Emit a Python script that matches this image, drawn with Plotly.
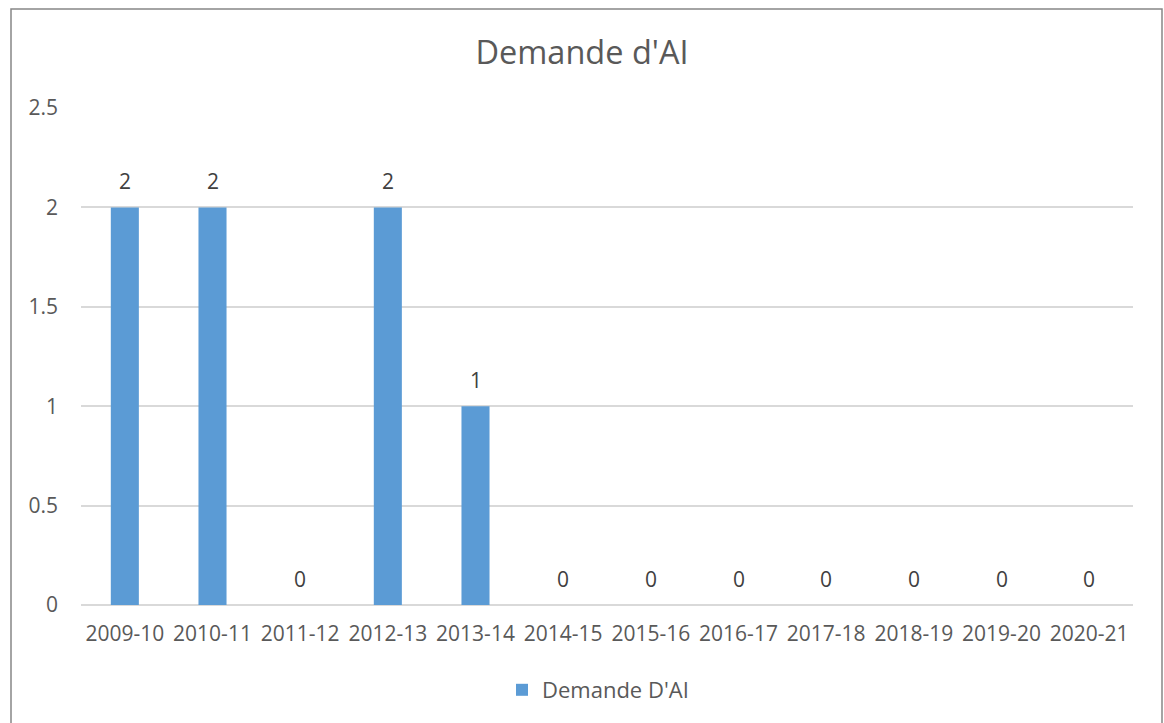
import plotly.graph_objects as go

categories = ["2009-10", "2010-11", "2011-12", "2012-13", "2013-14", "2014-15",
              "2015-16", "2016-17", "2017-18", "2018-19", "2019-20", "2020-21"]
values = [2, 2, 0, 2, 1, 0, 0, 0, 0, 0, 0, 0]
series_name = "Demande D'AI"
title_text = "Demande d'AI"

FONT = "'Open Sans', sans-serif"
GREY = "#595959"

fig = go.Figure()
fig.add_trace(go.Bar(
    x=categories, y=values, name=series_name,
    marker=dict(color="#5b9bd5", line=dict(width=0)),
))

for c, v in zip(categories, values):
    fig.add_annotation(x=c, y=v, text=str(v), showarrow=False,
                       yanchor="bottom", yshift=10,
                       font=dict(size=21, color="#404040", family=FONT))

W, H = 1164, 723
L, R, T, B = 81, 31, 108, 118
pw = W - L - R
ph = H - T - B

def px_x(x):
    return (x - L) / pw

def px_y(y):
    return (H - B - y) / ph

fig.add_shape(type="rect", xref="paper", yref="paper",
              x0=px_x(11), x1=px_x(1162), y0=px_y(730), y1=px_y(9),
              line=dict(color="#868686", width=1.5), fillcolor="rgba(0,0,0,0)", layer="below")

fig.update_layout(
    width=W, height=H,
    margin=dict(l=L, r=R, t=T, b=B),
    paper_bgcolor="white", plot_bgcolor="white",
    title=dict(text=title_text, x=0.5, xanchor="center", y=1 - 53 / H, yanchor="middle",
               font=dict(size=32.5, color=GREY, family=FONT)),
    bargap=0.68,
    showlegend=True,
    legend=dict(orientation="h", x=px_x(598), xanchor="center", y=px_y(690), yanchor="middle",
                font=dict(size=22, color=GREY, family=FONT)),
    font=dict(family=FONT, color=GREY),
)
fig.update_xaxes(type="category", showgrid=False, showline=False, ticks="",
                 ticklabelstandoff=14,
                 tickfont=dict(size=21, color=GREY, family=FONT))
fig.update_yaxes(range=[0, 2.5], dtick=0.5, showgrid=True, gridcolor="#d9d9d9", gridwidth=1.5,
                 zeroline=True, zerolinecolor="#d9d9d9", zerolinewidth=1.5,
                 showline=False, ticks="", ticklen=0, ticklabelstandoff=22,
                 tickfont=dict(size=21, color=GREY, family=FONT))

fig.write_html("out.html", config={"displayModeBar": False},
               post_script="document.body.style.margin='0';document.body.style.overflow='hidden';")
